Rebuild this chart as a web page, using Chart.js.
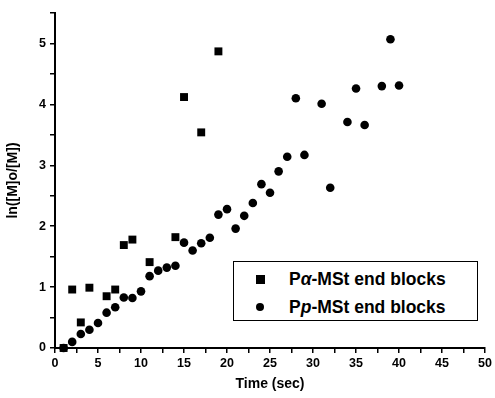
<!DOCTYPE html>
<html>
<head>
<meta charset="utf-8">
<script src="https://cdn.jsdelivr.net/npm/chart.js@4.4.1/dist/chart.umd.min.js"></script>
<style>
  body { margin: 0; background: #fff; }
  #wrap { position: relative; width: 495px; height: 398px; }
  #legendBox {
    position: absolute; left: 233px; top: 261px; width: 245px; height: 60px;
    box-sizing: border-box; border: 1.5px solid #000; background: #fff;
    font: bold 17.5px "Liberation Sans", Arial, sans-serif; color: #000;
  }
  .row { position: absolute; left: 0; height: 20px; line-height: 20px; white-space: nowrap; }
  .mk { position: absolute; background: #000; }
  .sq { left: 22px; top: 6px; width: 9px; height: 9px; }
  .ci { left: 22px; top: 6px; width: 8px; height: 8px; border-radius: 50%; }
  .lbl { position: absolute; left: 55px; top: 0; }
</style>
</head>
<body>
<div id="wrap">
  <canvas id="kineticsChart" width="495" height="398"></canvas>
  <div id="legendBox">
    <div class="row" style="top:7px"><span class="mk sq"></span><span class="lbl">P<i>α</i>-MSt end blocks</span></div>
    <div class="row" style="top:35px"><span class="mk ci"></span><span class="lbl">P<i>p</i>-MSt end blocks</span></div>
  </div>
</div>
<script>
// Pα-MSt end blocks (squares)
const alphaTime = [1, 2, 3, 4, 6, 7, 8, 9, 11, 14, 15, 17, 19];
const alphaLnRatio = [0, 0.96, 0.42, 0.99, 0.85, 0.96, 1.69, 1.78, 1.41, 1.82, 4.12, 3.54, 4.87];

// Pp-MSt end blocks (circles)
const paraTime = [1, 2, 3, 4, 5, 6, 7, 8, 9, 10, 11, 12, 13, 14, 15, 16, 17, 18, 19, 20,
  21, 22, 23, 24, 25, 26, 27, 28, 29, 31, 32, 34, 35, 36, 38, 39, 40];
const paraLnRatio = [0, 0.10, 0.23, 0.30, 0.41, 0.58, 0.67, 0.83, 0.82, 0.93, 1.18, 1.27, 1.32, 1.35,
  1.73, 1.60, 1.72, 1.81, 2.19, 2.28, 1.96, 2.17, 2.38, 2.69, 2.55, 2.90, 3.14, 4.10, 3.17,
  4.01, 2.63, 3.71, 4.26, 3.66, 4.30, 5.07, 4.31];

const xTickLabels = [0, 5, 10, 15, 20, 25, 30, 35, 40, 45, 50];
const yTickLabels = [0, 1, 2, 3, 4, 5];

const toPoints = (xs, ys) => xs.map((x, i) => ({ x: x, y: ys[i] }));

const tickFont = { family: '"Liberation Sans", Arial, sans-serif', size: 12.5, weight: 'bold' };
const titleFont = { family: '"Liberation Sans", Arial, sans-serif', size: 14, weight: 'bold' };

const ctx = document.getElementById('kineticsChart').getContext('2d');
new Chart(ctx, {
  type: 'scatter',
  data: {
    datasets: [
      {
        label: 'Pα-MSt end blocks',
        data: toPoints(alphaTime, alphaLnRatio),
        pointStyle: 'rect',
        pointRadius: 5.6,
        backgroundColor: '#000',
        borderColor: '#000',
        borderWidth: 0,
        clip: false
      },
      {
        label: 'Pp-MSt end blocks',
        data: toPoints(paraTime, paraLnRatio),
        pointStyle: 'circle',
        pointRadius: 4.3,
        backgroundColor: '#000',
        borderColor: '#000',
        borderWidth: 0,
        clip: false
      }
    ]
  },
  options: {
    responsive: false,
    animation: false,
    layout: { padding: { top: 13, right: 7, left: 0, bottom: 0 } },
    plugins: {
      legend: { display: false },
      tooltip: { enabled: false }
    },
    scales: {
      x: {
        type: 'linear',
        min: 0,
        max: 50,
        afterFit: s => { s.height = 50; },
        ticks: {
          stepSize: 2.5,
          autoSkip: false,
          maxRotation: 0,
          padding: 3,
          color: '#000',
          font: tickFont,
          callback: v => xTickLabels.includes(v) ? v : ''
        },
        grid: { drawOnChartArea: false, drawTicks: true, tickLength: 5, color: '#000', lineWidth: 1.5 },
        border: { display: true, color: '#000', width: 2 },
        title: { display: true, text: 'Time (sec)', color: '#000', font: titleFont, padding: { top: 0, bottom: 5 } }
      },
      y: {
        type: 'linear',
        min: 0,
        max: 5.5,
        afterFit: s => { s.width = 55; },
        ticks: {
          stepSize: 0.5,
          autoSkip: false,
          padding: 4,
          color: '#000',
          font: tickFont,
          callback: v => yTickLabels.includes(v) ? v : ''
        },
        grid: { drawOnChartArea: false, drawTicks: true, tickLength: 5, color: '#000', lineWidth: 1.5 },
        border: { display: true, color: '#000', width: 2 },
        title: { display: true, text: 'ln([M]o/[M])', color: '#000', font: titleFont, padding: { top: 5, bottom: 0 } }
      }
    }
  }
});
</script>
</body>
</html>
